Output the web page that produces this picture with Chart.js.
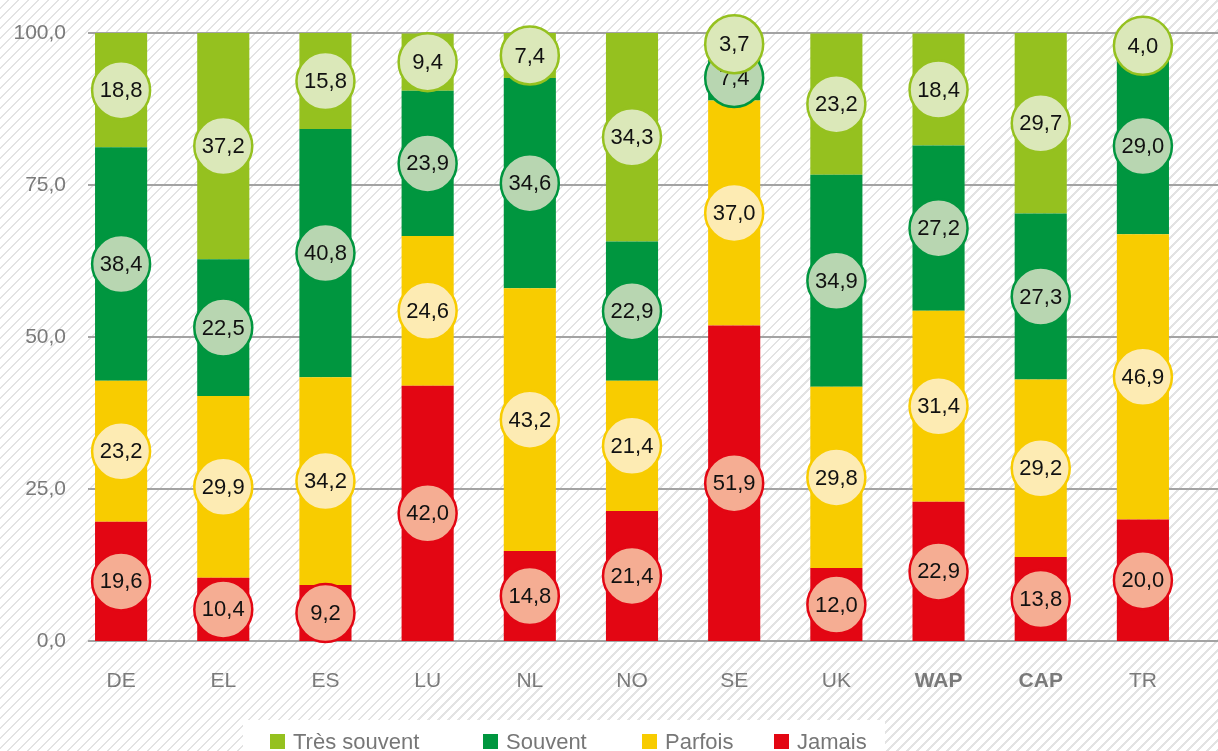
<!DOCTYPE html>
<html>
<head>
<meta charset="utf-8">
<script src="https://cdn.jsdelivr.net/npm/chart.js@4"></script>
<style>
  body {
    margin: 0;
    width: 1218px;
    height: 751px;
    overflow: hidden;
    background: repeating-linear-gradient(135deg, #fff 0px, #fff 5.07px, #e3e3e3 5.07px, #e3e3e3 7.07px);
    font-family: "Liberation Sans", Arial, sans-serif;
  }
  #wrap { position: absolute; left: 0; top: 0; width: 1218px; height: 751px; }
  #legend {
    position: absolute; left: 243px; top: 720px; width: 642px; height: 31px;
    background: #fff;
  }
  .item { position: absolute; top: 14px; display: flex; align-items: center; }
  .box { width: 15px; height: 15px; margin-right: 8px; }
  .lbl { font-size: 22px; color: #777; line-height: 15px; }
</style>
</head>
<body>
<div id="wrap"><canvas id="chart" width="1218" height="751"></canvas></div>
<div id="legend"></div>
<script>
const countries = ['DE', 'EL', 'ES', 'LU', 'NL', 'NO', 'SE', 'UK', 'WAP', 'CAP', 'TR'];
const boldCountries = ['WAP', 'CAP'];

const jamais      = [19.6, 10.4,  9.2, 42.0, 14.8, 21.4, 51.9, 12.0, 22.9, 13.8, 20.0];
const parfois     = [23.2, 29.9, 34.2, 24.6, 43.2, 21.4, 37.0, 29.8, 31.4, 29.2, 46.9];
const souvent     = [38.4, 22.5, 40.8, 23.9, 34.6, 22.9,  7.4, 34.9, 27.2, 27.3, 29.0];
const tresSouvent = [18.8, 37.2, 15.8,  9.4,  7.4, 34.3,  3.7, 23.2, 18.4, 29.7,  4.0];

const yTicks = [0, 25, 50, 75, 100];

// bottom to top
const series = [
  { label: 'Jamais',       data: jamais,      color: '#e30613', light: '#f5ad93' },
  { label: 'Parfois',      data: parfois,     color: '#f8cc00', light: '#fdebb3' },
  { label: 'Souvent',      data: souvent,     color: '#00963f', light: '#b8d6b1' },
  { label: 'Très souvent', data: tresSouvent, color: '#95c11f', light: '#dbe8b9' },
];

const fmt = v => v.toFixed(1).replace('.', ',');

// horizontal grid lines running past the plot to the right edge
const gridPlugin = {
  id: 'grid',
  beforeDatasetsDraw(chart) {
    const ctx = chart.ctx;
    const y = chart.scales.y;
    ctx.save();
    ctx.strokeStyle = '#a3a3a3';
    ctx.lineWidth = 2;
    yTicks.forEach(t => {
      const py = Math.round(y.getPixelForValue(t));
      ctx.beginPath();
      ctx.moveTo(88, py);
      ctx.lineTo(chart.width, py);
      ctx.stroke();
    });
    ctx.restore();
  }
};

// round value badges in the middle of each segment
const badgePlugin = {
  id: 'badges',
  afterDatasetsDraw(chart) {
    const ctx = chart.ctx;
    ctx.save();
    chart.data.datasets.forEach((ds, d) => {
      const meta = chart.getDatasetMeta(d);
      meta.data.forEach((bar, i) => {
        const v = ds.data[i];
        const cx = bar.x;
        const cy = (bar.y + bar.base) / 2;
        ctx.beginPath();
        ctx.arc(cx, cy, 29, 0, Math.PI * 2);
        ctx.fillStyle = series[d].light;
        ctx.fill();
        ctx.lineWidth = 2.5;
        ctx.strokeStyle = series[d].color;
        ctx.stroke();
        ctx.fillStyle = '#111';
        ctx.font = '22px "Liberation Sans", Arial, sans-serif';
        ctx.textAlign = 'center';
        ctx.textBaseline = 'middle';
        ctx.fillText(fmt(v), cx, cy + 1);
      });
    });
    ctx.restore();
  }
};

new Chart(document.getElementById('chart'), {
  type: 'bar',
  data: {
    labels: countries,
    datasets: series.map(s => ({
      label: s.label,
      data: s.data,
      backgroundColor: s.color,
      borderWidth: 0,
      barPercentage: 0.51,
      categoryPercentage: 1.0,
    }))
  },
  options: {
    responsive: false,
    animation: false,
    layout: { padding: { top: 33, right: 24, bottom: 0, left: 0 } },
    plugins: { legend: { display: false }, tooltip: { enabled: false } },
    scales: {
      x: {
        stacked: true,
        grid: { display: false, drawTicks: false },
        border: { display: false },
        afterFit: s => { s.height = 110; },
        ticks: {
          padding: 28,
          color: '#7a7a7a',
          font: c => ({
            family: '"Liberation Sans", Arial, sans-serif',
            size: 21,
            weight: boldCountries.includes(countries[c.index]) ? 'bold' : 'normal'
          })
        }
      },
      y: {
        stacked: true,
        min: 0,
        max: 100,
        afterFit: s => { s.width = 70; },
        grid: { display: false, drawTicks: false },
        border: { display: false },
        afterBuildTicks: s => { s.ticks = yTicks.map(v => ({ value: v })); },
        ticks: {
          padding: 4,
          color: '#7a7a7a',
          font: { family: '"Liberation Sans", Arial, sans-serif', size: 21 },
          callback: v => fmt(v)
        }
      }
    }
  },
  plugins: [gridPlugin, badgePlugin]
});

// legend, top series first
const legend = document.getElementById('legend');
const legendLeft = [27, 240, 399, 531];
series.slice().reverse().forEach((s, k) => {
  const it = document.createElement('div');
  it.className = 'item';
  it.style.left = legendLeft[k] + 'px';
  it.innerHTML = '<div class="box" style="background:' + s.color + '"></div><span class="lbl">' + s.label + '</span>';
  legend.appendChild(it);
});
</script>
</body>
</html>
